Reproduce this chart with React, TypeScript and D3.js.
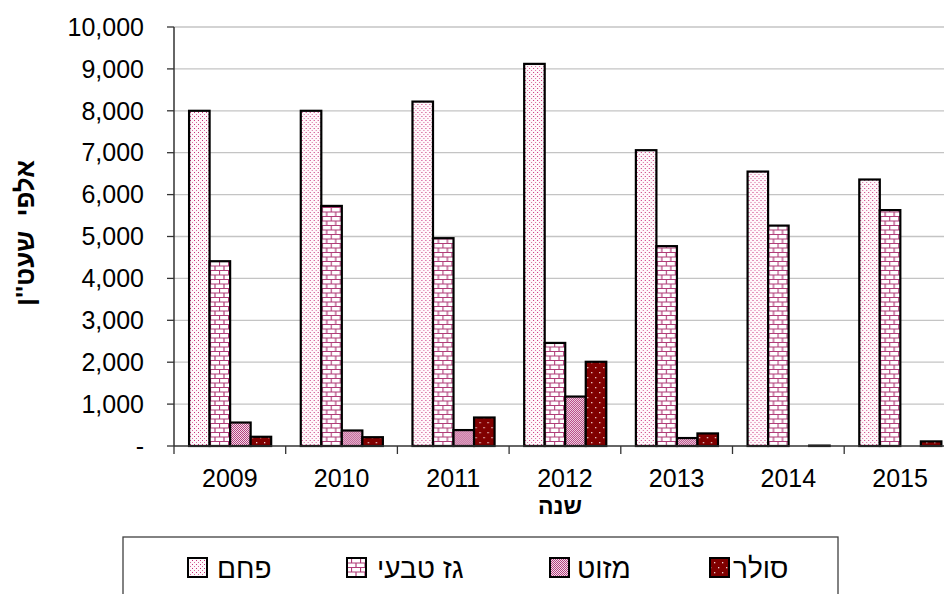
import React from "react";
import * as d3 from "d3";

const years = ["2009", "2010", "2011", "2012", "2013", "2014", "2015"];
const seriesNames = ["פחם", "גז טבעי", "מזוט", "סולר"];
const coal = [8000, 8000, 8220, 9120, 7060, 6550, 6360];
const gas = [4410, 5730, 4960, 2460, 4770, 5260, 5630];
const mazut = [560, 370, 380, 1180, 190, 0, 0];
const solar = [220, 210, 680, 2010, 300, 10, 110];
const yTicks = [0, 1000, 2000, 3000, 4000, 5000, 6000, 7000, 8000, 9000, 10000];

const seriesValues = [coal, gas, mazut, solar];
const patternIds = ["pCoal", "pGas", "pMazut", "pSolar"];

const W = 944;
const H = 594;
const left = 174;
const top = 27;
const bottom = 446;
const groupW = 111.7;

const y = d3.scaleLinear().domain([0, 10000]).range([bottom, top]);
const x = d3.scaleBand().domain(years).range([left, left + groupW * years.length]);
const inner = d3
  .scaleBand<number>()
  .domain([0, 1, 2, 3])
  .range([x.bandwidth() * 0.135, x.bandwidth() * 0.87]);

const fmt = (v: number) => (v === 0 ? "-" : d3.format(",")(v));
const font = "Arial, 'Liberation Sans', sans-serif";

const legendItems = [
  { swatch: 188, text: 217 },
  { swatch: 347, text: 377 },
  { swatch: 550, text: 577 },
  { swatch: 710, text: 733 },
];

export default function App() {
  return (
    <svg
      width={W}
      height={H}
      style={{ position: "absolute", left: 0, top: 0, background: "#fff" }}
      fontFamily={font}
    >
      <defs>
        <pattern id="pCoal" width={4} height={4} patternUnits="userSpaceOnUse">
          <rect width={4} height={4} fill="#fff8fb" />
          <rect x={0} y={0} width={1} height={1} fill="#c8307a" />
          <rect x={2} y={2} width={1} height={1} fill="#d66a9c" />
        </pattern>
        <pattern id="pGas" width={9} height={9} patternUnits="userSpaceOnUse">
          <rect width={9} height={9} fill="#fff" />
          <path
            d="M0,0.5H9M0,5H9M0.5,0V4.5M5,5V9"
            stroke="#b03c78"
            strokeWidth={1.2}
            fill="none"
          />
        </pattern>
        <pattern id="pMazut" width={2} height={2} patternUnits="userSpaceOnUse">
          <rect width={2} height={2} fill="#f3dde9" />
          <rect x={0} y={0} width={1} height={1} fill="#b4407e" />
          <rect x={1} y={1} width={1} height={1} fill="#b4407e" />
        </pattern>
        <pattern id="pSolar" width={8} height={10} patternUnits="userSpaceOnUse">
          <rect width={8} height={10} fill="#800000" />
          <rect x={2} y={2} width={1.3} height={1.3} fill="#f0d0d0" />
          <rect x={6} y={7} width={1.3} height={1.3} fill="#f0d0d0" />
        </pattern>
      </defs>

      {/* gridlines */}
      {yTicks.slice(1).map((t) => (
        <line key={t} x1={left} x2={W} y1={y(t)} y2={y(t)} stroke="#c4c4c4" strokeWidth={1.3} />
      ))}

      {/* bars */}
      {years.map((yr, i) => (
        <g key={yr} transform={`translate(${x(yr)},0)`}>
          {seriesValues.map((vals, s) => (
            <rect
              key={s}
              x={inner(s)}
              y={y(vals[i])}
              width={inner.bandwidth()}
              height={bottom - y(vals[i])}
              fill={`url(#${patternIds[s]})`}
              stroke="#000"
              strokeWidth={vals[i] > 0 ? 2.2 : 0}
            />
          ))}
        </g>
      ))}

      {/* y axis */}
      <line x1={left} x2={left} y1={top} y2={bottom} stroke="#333" strokeWidth={1.5} />
      {yTicks.map((t) => (
        <g key={t}>
          <line x1={left - 7} x2={left} y1={y(t)} y2={y(t)} stroke="#333" strokeWidth={1.3} />
          <text x={144} y={y(t)} dy="0.35em" textAnchor="end" fontSize={25} fill="#000">
            {fmt(t)}
          </text>
        </g>
      ))}

      {/* x axis */}
      <line x1={left} x2={W} y1={bottom} y2={bottom} stroke="#333" strokeWidth={1.5} />
      {years.map((yr) => (
        <line
          key={yr}
          x1={x(yr)}
          x2={x(yr)}
          y1={bottom}
          y2={bottom + 8}
          stroke="#333"
          strokeWidth={1.3}
        />
      ))}
      {years.map((yr) => (
        <text
          key={yr}
          x={(x(yr) as number) + x.bandwidth() / 2}
          y={487}
          textAnchor="middle"
          fontSize={25}
          fill="#000"
        >
          {yr}
        </text>
      ))}

      <text x={560} y={514} textAnchor="middle" fontSize={23} fontWeight="bold">
        שנה
      </text>
      <text
        transform="translate(34,233) rotate(-90)"
        textAnchor="middle"
        fontSize={26}
        fontWeight="bold"
        style={{ whiteSpace: "pre" }}
      >
        {"אלפי\u00a0\u00a0שעט''ן"}
      </text>

      {/* legend */}
      <rect x={123} y={537} width={715} height={70} fill="#fff" stroke="#404040" strokeWidth={1.3} />
      {legendItems.map((it, s) => (
        <g key={s}>
          <rect
            x={it.swatch}
            y={558}
            width={19}
            height={19}
            fill={`url(#${patternIds[s]})`}
            stroke="#000"
            strokeWidth={2}
          />
          <text x={it.text} y={578} fontSize={28} textAnchor="start" fill="#000">
            {seriesNames[s]}
          </text>
        </g>
      ))}
    </svg>
  );
}
